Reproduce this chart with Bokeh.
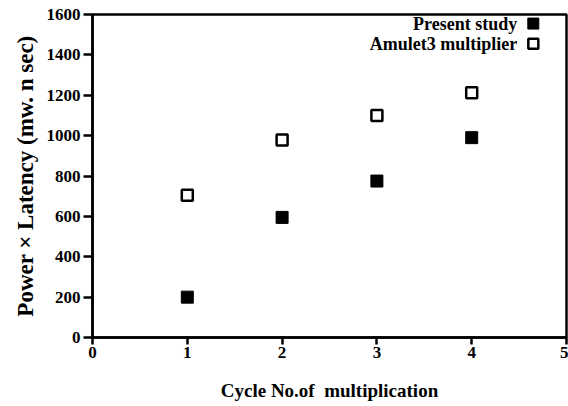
from bokeh.plotting import figure
from bokeh.models import Range1d, FixedTicker, Label
from bokeh.embed import file_html
from bokeh.resources import INLINE

cycles = [1, 2, 3, 4]
present_study = [200, 595, 775, 990]
amulet3 = [705, 978, 1100, 1212]
x_ticks = [0, 1, 2, 3, 4, 5]
y_ticks = [0, 200, 400, 600, 800, 1000, 1200, 1400, 1600]
legend_labels = ["Present study", "Amulet3 multiplier"]

FONT = "serif"
TICK_FONT = "Times New Roman"

p = figure(width=568, height=406, output_backend="svg", toolbar_location=None,
           x_range=Range1d(0, 5), y_range=Range1d(0, 1600),
           min_border_left=92, min_border_right=2, min_border_top=14, min_border_bottom=69)

p.grid.visible = False
p.outline_line_color = "black"
p.outline_line_width = 2.5
p.background_fill_color = "white"
p.border_fill_color = "white"

p.axis.axis_line_width = 2.5
p.axis.axis_line_color = "black"
p.axis.major_tick_line_width = 2.5
p.axis.major_tick_line_color = "black"
p.axis.major_tick_in = 0
p.axis.minor_tick_line_color = None
p.axis.major_label_text_font = TICK_FONT
p.axis.major_label_text_font_size = "17px"
p.axis.major_label_text_font_style = "bold"
p.axis.major_label_text_color = "black"
p.axis.axis_label_text_font = FONT
p.axis.axis_label_text_font_style = "bold"
p.axis.axis_label_text_color = "black"

p.xaxis.axis_label_text_font_size = "19px"
p.yaxis.axis_label_text_font_size = "23px"
p.xaxis.ticker = FixedTicker(ticks=x_ticks)
p.yaxis.ticker = FixedTicker(ticks=y_ticks)
p.xaxis.major_tick_out = 7
p.yaxis.major_tick_out = 9
p.xaxis.major_label_standoff = 2
p.yaxis.major_label_standoff = 3
p.xaxis.axis_label = "Cycle No.of\u00a0\u00a0multiplication"
p.yaxis.axis_label = "Power \u00d7 Latency (mw. n sec)"
p.xaxis.axis_label_standoff = 19
p.yaxis.axis_label_standoff = 6

p.scatter(cycles, present_study, marker="square", size=12,
          fill_color="black", line_color="black", line_width=1)
p.scatter(cycles, amulet3, marker="square", size=11,
          fill_color="white", line_color="black", line_width=2.5)

# legend (text right-aligned, marker on the right)
leg_x_text = 4.48
leg_x_mark = 4.65
leg_y = [1555, 1455]
p.scatter([leg_x_mark], [leg_y[0]], marker="square", size=11,
          fill_color="black", line_color="black")
p.scatter([leg_x_mark], [leg_y[1]], marker="square", size=10,
          fill_color="white", line_color="black", line_width=2.5)
for lab, yy in zip(legend_labels, leg_y):
    p.add_layout(Label(x=leg_x_text, y=yy, text=lab, text_align="right",
                       text_baseline="middle", text_font=FONT,
                       text_font_size="18px", text_font_style="bold",
                       text_color="black"))

open("out.html", "w").write(file_html(p, INLINE))
